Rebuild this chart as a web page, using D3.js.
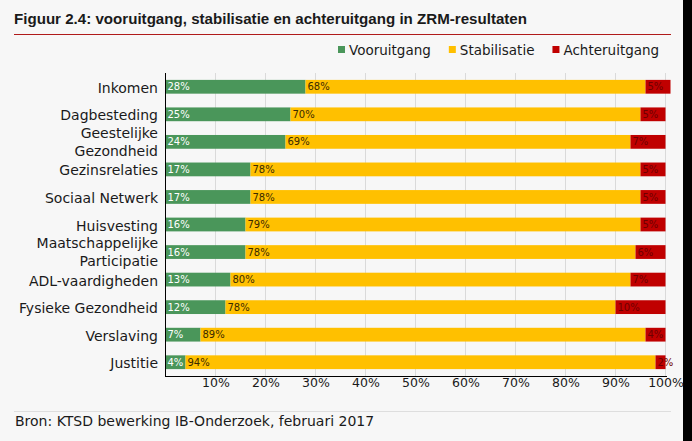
<!DOCTYPE html>
<html>
<head>
<meta charset="utf-8">
<script src="https://cdn.jsdelivr.net/npm/d3@7"></script>
<style>
  html, body { margin: 0; padding: 0; background: #f7f7f7; }
  svg { display: block; }
</style>
</head>
<body>
<svg id="chart" width="692" height="441"></svg>
<script>
// ---- data ----
const categories = ["Inkomen", "Dagbesteding", "Geestelijke Gezondheid", "Gezinsrelaties",
  "Sociaal Netwerk", "Huisvesting", "Maatschappelijke Participatie", "ADL-vaardigheden",
  "Fysieke Gezondheid", "Verslaving", "Justitie"];
const vooruitgang  = [28, 25, 24, 17, 17, 16, 16, 13, 12, 7, 4];
const stabilisatie = [68, 70, 69, 78, 78, 79, 78, 80, 78, 89, 94];
const achteruitgang = [5, 5, 7, 5, 5, 5, 6, 7, 10, 4, 2];
const seriesNames = ["Vooruitgang", "Stabilisatie", "Achteruitgang"];
const xTicks = [10, 20, 30, 40, 50, 60, 70, 80, 90, 100];
const titleText = "Figuur 2.4: vooruitgang, stabilisatie en achteruitgang in ZRM-resultaten";
const sourceText = "Bron: KTSD bewerking IB-Onderzoek, februari 2017";

// ---- styles ----
const colors = ["#4a965a", "#ffc000", "#c00000"];
const labelColors = ["#ffffff", "#3a2a00", "#6e0000"];
const font = "'DejaVu Sans', Verdana, sans-serif";

const svg = d3.select("#chart");
const W = 692, H = 441;

svg.append("rect").attr("x", 0).attr("y", 0).attr("width", W).attr("height", H).attr("fill", "#f7f7f7");
svg.append("rect").attr("x", 683).attr("y", 0).attr("width", W - 683).attr("height", H).attr("fill", "#000");

// title
svg.append("text")
  .attr("x", 14).attr("y", 24)
  .attr("font-family", "'Liberation Sans Narrow', 'Liberation Sans', Arial, sans-serif")
  .attr("font-weight", "bold")
  .attr("font-size", 15.5)
  .attr("fill", "#1a1a1a")
  .attr("textLength", 513)
  .attr("lengthAdjust", "spacingAndGlyphs")
  .text(titleText);
svg.append("line").attr("x1", 14).attr("x2", 671).attr("y1", 34.5).attr("y2", 34.5)
  .attr("stroke", "#b01a1a").attr("stroke-width", 1);

// scales
const x = d3.scaleLinear().domain([0, 100]).range([165.5, 665.5]);
const y = d3.scaleBand().domain(categories).range([73, 376]).paddingInner(0.5).paddingOuter(0.25);

// gridlines
svg.append("g").selectAll("line").data(xTicks).join("line")
  .attr("x1", d => x(d)).attr("x2", d => x(d))
  .attr("y1", 73).attr("y2", 376)
  .attr("stroke", "#dadada").attr("stroke-width", 1);

// stacked data
const rows = categories.map((c, i) => ({ cat: c, Vooruitgang: vooruitgang[i], Stabilisatie: stabilisatie[i], Achteruitgang: achteruitgang[i] }));
const stack = d3.stack().keys(seriesNames)(rows);

const layers = svg.append("g").selectAll("g").data(stack).join("g")
  .attr("fill", (d, i) => colors[i]);
layers.selectAll("rect").data(d => d).join("rect")
  .attr("x", d => x(d[0]))
  .attr("y", d => y(d.data.cat))
  .attr("width", d => x(d[1]) - x(d[0]))
  .attr("height", y.bandwidth());

// value labels
const lab = svg.append("g").selectAll("g").data(stack).join("g")
  .attr("fill", (d, i) => labelColors[i]);
lab.selectAll("text").data(d => d).join("text")
  .attr("x", d => x(d[0]) + 2)
  .attr("y", d => y(d.data.cat) + y.bandwidth() / 2 + 3.6)
  .attr("font-family", font)
  .attr("font-size", 10)
  .text(d => (d[1] - d[0]) + "%");

// y axis labels
const yl = svg.append("g").selectAll("text").data(categories).join("text")
  .attr("x", 158)
  .attr("y", d => y(d) + y.bandwidth() / 2)
  .attr("text-anchor", "end")
  .attr("font-family", font)
  .attr("font-size", 14)
  .attr("fill", "#1a1a1a");
yl.each(function(d) {
  const words = d.split(" ");
  const t = d3.select(this);
  const twoLine = (d === "Geestelijke Gezondheid" || d === "Maatschappelijke Participatie");
  if (twoLine) {
    t.append("tspan").attr("x", 158).attr("dy", -4).text(words[0]);
    t.append("tspan").attr("x", 158).attr("dy", 18).text(words[1]);
  } else {
    t.append("tspan").attr("x", 158).attr("dy", 6).text(d);
  }
});

// axis lines
svg.append("line").attr("x1", 165.5).attr("x2", 165.5).attr("y1", 73).attr("y2", 376.5)
  .attr("stroke", "#000").attr("stroke-width", 1);

const xAxis = svg.append("g").attr("transform", "translate(0,376.5)")
  .call(d3.axisBottom(x).tickValues(xTicks).tickFormat(d => d + "%").tickSize(0).tickPadding(2));
xAxis.select(".domain").attr("d", "M165,0H667").attr("stroke", "#000");
xAxis.selectAll("text").attr("font-family", font).attr("font-size", 12.5).attr("fill", "#1a1a1a");

// legend
const leg = svg.append("g").attr("font-family", font).attr("font-size", 13.5).attr("fill", "#1a1a1a");
let lx = 338;
seriesNames.forEach((s, i) => {
  leg.append("rect").attr("x", lx).attr("y", 46).attr("width", 7).attr("height", 7).attr("fill", colors[i]);
  const t = leg.append("text").attr("x", lx + 11).attr("y", 55).text(s);
  lx += 11 + t.node().getComputedTextLength() + 18;
});

// footer
svg.append("line").attr("x1", 14).attr("x2", 671).attr("y1", 411.5).attr("y2", 411.5)
  .attr("stroke", "#dedede").attr("stroke-width", 1);
svg.append("text").attr("x", 15).attr("y", 425.5)
  .attr("font-family", font).attr("font-size", 14)
  .attr("fill", "#1a1a1a")
  .text(sourceText);
</script>
</body>
</html>
